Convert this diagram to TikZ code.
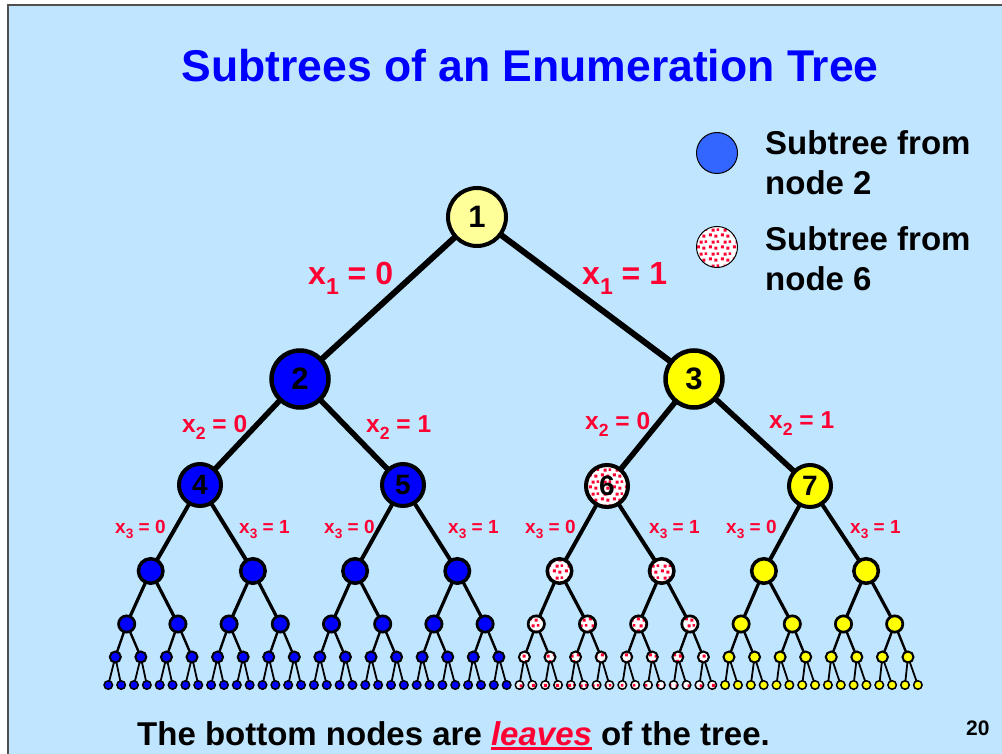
\documentclass[tikz,border=0pt]{standalone}
\usepackage{fontspec}
\setmainfont{Liberation Sans}
\usepackage{graphicx}
\usepackage{tikz}
\usetikzlibrary{patterns, backgrounds}
\definecolor{slidebg}{HTML}{C0E6FF}
\definecolor{slideframe}{HTML}{505050}
\definecolor{titleblue}{HTML}{0000FF}
\definecolor{labelred}{HTML}{FF0033}
\definecolor{subblue}{HTML}{0000FF}
\definecolor{legendblue}{HTML}{3366FF}
\definecolor{nodeyellow}{HTML}{FFFF00}
\definecolor{rootyellow}{HTML}{FFFF99}

\pgfdeclarepatternformonly{speckle}{\pgfpointorigin}{\pgfqpoint{12pt}{12pt}}{\pgfqpoint{12pt}{12pt}}{%
  \pgfpathrectangle{\pgfqpoint{0.8pt}{1.6pt}}{\pgfqpoint{3.2pt}{3.2pt}}%
  \pgfpathrectangle{\pgfqpoint{6.8pt}{0.4pt}}{\pgfqpoint{3.2pt}{3.2pt}}%
  \pgfpathrectangle{\pgfqpoint{3.8pt}{6.8pt}}{\pgfqpoint{3.2pt}{3.2pt}}%
  \pgfpathrectangle{\pgfqpoint{9.2pt}{7.6pt}}{\pgfqpoint{2.6pt}{2.6pt}}%
  \pgfusepath{fill}}

\newcommand{\xsub}[1]{x\raisebox{-0.3em}{\scalebox{0.72}{#1}}}
\newcommand{\underred}[1]{\sbox0{#1}\rlap{\rule[-5pt]{\wd0}{3pt}}\usebox0}

\begin{document}
\begin{tikzpicture}[x=1pt, y=-1pt,
    vert/.style={circle, draw=black, inner sep=0pt, text=black},
    lvzero/.style={vert, line width=4pt, minimum size=58pt, font=\fontsize{31}{31}\selectfont\bfseries},
    lvone/.style={vert, line width=4.5pt, minimum size=57pt, font=\fontsize{31}{31}\selectfont\bfseries},
    lvtwo/.style={vert, line width=4pt, minimum size=42pt, font=\fontsize{28}{28}\selectfont\bfseries},
    lvthree/.style={vert, line width=3.5pt, minimum size=24.5pt},
    lvfour/.style={vert, line width=2.7pt, minimum size=16.3pt},
    lvfive/.style={vert, line width=2pt, minimum size=11pt},
    lvsix/.style={vert, line width=1.5pt, minimum size=8.5pt},
    inblue/.style={fill=subblue},
    inyellow/.style={fill=nodeyellow},
    indots/.style={preaction={fill=white}, pattern=speckle, pattern color=labelred},
    link/.style={line width=#1},
    elabel/.style={anchor=base west, inner sep=0pt, text=labelred, font=\fontsize{#1}{#1}\selectfont\bfseries},
    keytext/.style={anchor=north west, inner sep=0pt, align=left, font=\fontsize{33}{40}\selectfont\bfseries},
  ]
  \useasboundingbox (0,0) rectangle (1002,754);

  % Title
  \node[anchor=base, inner sep=0pt, text=titleblue, font=\fontsize{44.5}{53}\selectfont\bfseries] (title) at (530,82) {Subtrees of an Enumeration Tree};

  % Legend
  \node[vert, line width=1pt, minimum size=41pt, fill=legendblue] (keyblue) at (717,153) {};
  \node[keytext] (keybluetext) at (765,130) {Subtree from\\node 2};
  \node[vert, line width=1pt, minimum size=41pt, indots] (keydots) at (717,247) {};
  \node[keytext] (keydotstext) at (765,226) {Subtree from\\node 6};

  % Upper levels
  \node[lvzero, fill=rootyellow] (v1) at (477,217) {1};
  \node[lvone, inblue] (v2) at (300,379) {2};
  \node[lvone, inyellow] (v3) at (694,379) {3};
  \node[lvtwo, inblue] (v4) at (200,485) {4};
  \node[lvtwo, inblue] (v5) at (403,485) {5};
  \node[lvtwo, indots] (v6) at (607,486) {6};
  \node[lvtwo, inyellow] (v7) at (810,486) {7};

  % Lower levels
  \foreach \a/\b/\s in {8/11/inblue, 12/13/indots, 14/15/inyellow}
    \foreach \k in {\a,...,\b}
      \node[lvthree, \s] (v\k) at ({150.7+(\k-8)*102.2},571) {};
  \foreach \a/\b/\s in {16/23/inblue, 24/27/indots, 28/31/inyellow}
    \foreach \k in {\a,...,\b}
      \node[lvfour, \s] (v\k) at ({126.7+(\k-16)*51.2},624) {};
  \foreach \a/\b/\s in {32/47/inblue, 48/55/indots, 56/63/inyellow}
    \foreach \k in {\a,...,\b}
      \node[lvfive, \s] (v\k) at ({115.3+(\k-32)*25.57},657) {};
  \foreach \a/\b/\s in {64/95/inblue, 96/111/indots, 112/127/inyellow}
    \foreach \k in {\a,...,\b}
      \node[lvsix, \s] (v\k) at ({108.3+(\k-64)*12.85},685) {};

  % Branch labels
  \node[elabel=32] (lxa) at (308,285) {\xsub{1} = 0};
  \node[elabel=32] (lxb) at (582,285) {\xsub{1} = 1};
  \node[elabel=24.5] (lya) at (182,432) {\xsub{2} = 0};
  \node[elabel=24.5] (lyb) at (366,432) {\xsub{2} = 1};
  \node[elabel=24.5] (lyc) at (585,429) {\xsub{2} = 0};
  \node[elabel=24.5] (lyd) at (769,428) {\xsub{2} = 1};
  \foreach \xx/\val [count=\i] in {115/0, 239/1, 324/0, 448/1, 525/0, 649/1, 726/0, 850/1}
    \node[elabel=19] (lz\i) at (\xx,533) {\xsub{3} = \val};

  % Footer
  \node[anchor=base west, inner sep=0pt, font=\fontsize{33}{40}\selectfont\bfseries] (note) at (137,745)
    {The bottom nodes are {\color{labelred}\itshape\underred{leaves}} of the tree.};
  \node[anchor=base west, inner sep=0pt, font=\fontsize{21}{21}\selectfont\bfseries] (pageno) at (966,735) {20};

  \begin{scope}[on background layer]
    \fill[white] (0,0) rectangle (1002,754);
    \fill[slidebg] (8,5) rectangle (1002,754);
    \draw[slideframe, line width=1.5pt] (8,754) -- (8,5) -- (1002,5);
    % Edges
    \draw[link=6] (v1.center) -- (v2.center);
    \draw[link=6] (v1.center) -- (v3.center);
    \foreach \k in {4,...,7} {
      \pgfmathtruncatemacro{\up}{\k/2}
      \draw[link=5.5] (v\up.center) -- (v\k.center);
    }
    \foreach \k in {8,...,15} {
      \pgfmathtruncatemacro{\up}{\k/2}
      \draw[link=4] (v\up.center) -- (v\k.center);
    }
    \foreach \k in {16,...,31} {
      \pgfmathtruncatemacro{\up}{\k/2}
      \draw[link=3.2] (v\up.center) -- (v\k.center);
    }
    \foreach \k in {32,...,63} {
      \pgfmathtruncatemacro{\up}{\k/2}
      \draw[link=2.4] (v\up.center) -- (v\k.center);
    }
    \foreach \k in {64,...,127} {
      \pgfmathtruncatemacro{\up}{\k/2}
      \draw[link=1.8] (v\up.center) -- (v\k.center);
    }
  \end{scope}
\end{tikzpicture}
\end{document}
